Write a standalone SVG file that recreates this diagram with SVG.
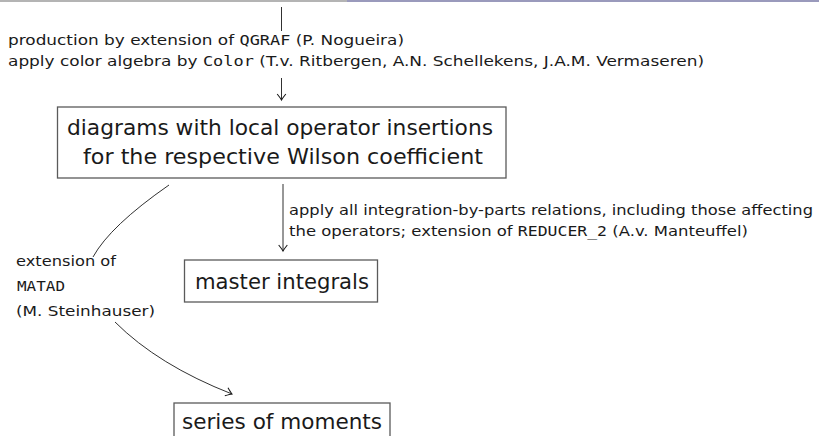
<svg xmlns="http://www.w3.org/2000/svg" width="819" height="436" viewBox="0 0 819 436">
<style>
.t{font-family:"DejaVu Sans","Liberation Sans",sans-serif;fill:#1a1a1a}
.s{font-size:14.5px}
.b{font-size:21px}
.m{font-family:"DejaVu Sans Mono","Liberation Mono",monospace}
.box{fill:#fff;stroke:#5a5a5a;stroke-width:1.3}
.ln{fill:none;stroke:#1a1a1a;stroke-width:0.9}
</style>
<defs>
<marker id="ah" markerWidth="12" markerHeight="12" viewBox="-6 -5 8 10" refX="0" refY="0" orient="auto" markerUnits="userSpaceOnUse">
<path d="M-5,-3.6 Q-1.5,-0.8 0,0 Q-1.5,0.8 -5,3.6" fill="none" stroke="#1a1a1a" stroke-width="0.9"/>
</marker>
</defs>
<rect x="0" y="0" width="347" height="2" fill="#b4b4b4"/>
<rect x="347" y="0" width="472" height="2" fill="#9a9abc"/>
<g id="connectors">
<line class="ln" x1="281.5" y1="7" x2="281.5" y2="31"/>
<line class="ln" x1="281.5" y1="78" x2="281.5" y2="100" marker-end="url(#ah)"/>
<line class="ln" x1="283" y1="184" x2="283" y2="251" marker-end="url(#ah)"/>
<path class="ln" d="M169,185 Q110,226 93,257"/>
<path class="ln" d="M115,322 Q158,365 232,394" marker-end="url(#ah)"/>
</g>
<g id="label-production">
<text class="t s" x="8" y="45" textLength="396" lengthAdjust="spacingAndGlyphs">production by extension of <tspan class="m">QGRAF</tspan> (P. Nogueira)</text>
<text class="t s" x="8" y="66" textLength="696" lengthAdjust="spacingAndGlyphs">apply color algebra by <tspan class="m">Color</tspan> (T.v. Ritbergen, A.N. Schellekens, J.A.M. Vermaseren)</text>
</g>
<g id="node-diagrams">
<rect class="box" x="57.5" y="107" width="448.5" height="71"/>
<text class="t b" x="67" y="135" textLength="426" lengthAdjust="spacingAndGlyphs">diagrams with local operator insertions</text>
<text class="t b" x="83" y="164" textLength="400" lengthAdjust="spacingAndGlyphs">for the respective Wilson coefficient</text>
</g>
<g id="label-ibp">
<text class="t s" x="289" y="215" textLength="524" lengthAdjust="spacingAndGlyphs">apply all integration-by-parts relations, including those affecting</text>
<text class="t s" x="289" y="236" textLength="459" lengthAdjust="spacingAndGlyphs">the operators; extension of <tspan class="m">REDUCER_2</tspan> (A.v. Manteuffel)</text>
</g>
<g id="node-master">
<rect class="box" x="184.5" y="260" width="193" height="42"/>
<text class="t b" x="195" y="289" textLength="174" lengthAdjust="spacingAndGlyphs">master integrals</text>
</g>
<g id="label-matad">
<text class="t s" x="16" y="266" textLength="100" lengthAdjust="spacingAndGlyphs">extension of</text>
<text class="t s m" x="17" y="291" textLength="48" lengthAdjust="spacingAndGlyphs">MATAD</text>
<text class="t s" x="16" y="316" textLength="139" lengthAdjust="spacingAndGlyphs">(M. Steinhauser)</text>
</g>
<g id="node-series">
<rect class="box" x="174" y="403" width="216" height="50"/>
<text class="t b" x="182" y="429" textLength="200" lengthAdjust="spacingAndGlyphs">series of moments</text>
</g>
</svg>
